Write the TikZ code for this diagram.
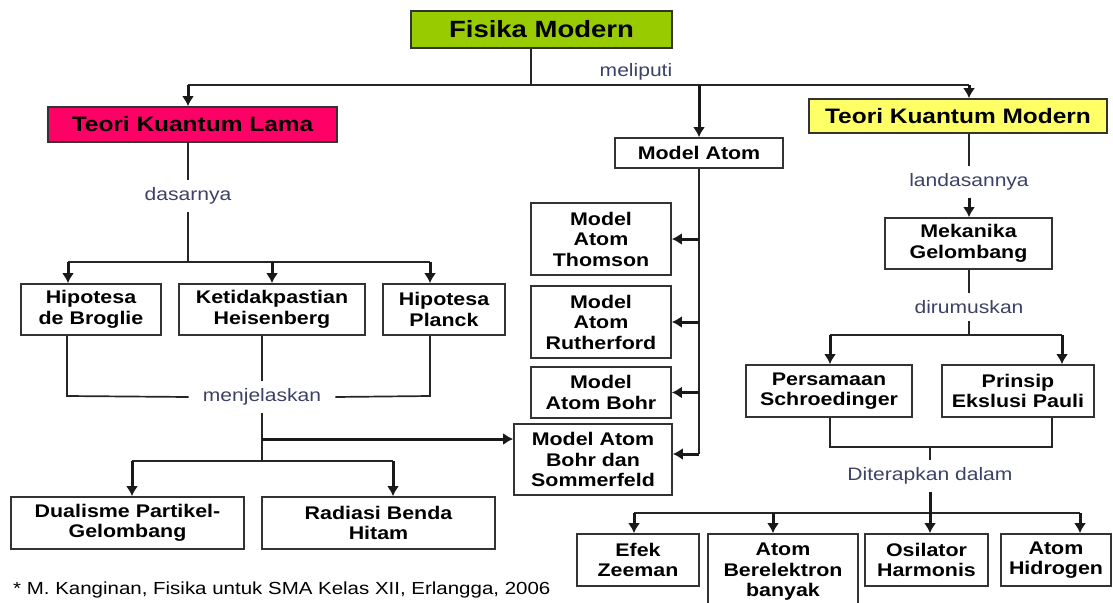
\documentclass[tikz,border=0pt]{standalone}
\usepackage{fontspec}
\setmainfont{Liberation Sans}[FakeStretch=1.17]
\usetikzlibrary{
        arrows.meta,
        positioning
    }
\definecolor{fisgreen}{HTML}{99CC00}
\definecolor{lamapink}{HTML}{FF0066}
\definecolor{modernyellow}{HTML}{FFFF66}
\definecolor{labelblue}{HTML}{3B4266}
\tikzset{>={Latex[length=10pt,width=12pt]}}
\tikzset{
    box/.style={draw=black!80,line width=1.7pt,fill=white,align=center,inner sep=0pt,
        font=\bfseries\fontsize{18.3}{20.5}\selectfont},
    title/.style={box,font=\bfseries\fontsize{20.9}{23}\selectfont},
    lbl/.style={inner xsep=14pt,inner ysep=7pt,text=labelblue,
        font=\fontsize{18}{20}\selectfont},
    conn/.style={draw=black!85,line width=1.7pt},
    arr/.style={->,black!90,line width=3pt}
}

\begin{document}
\begin{tikzpicture}[x=1pt,y=-1pt]
\useasboundingbox (0,0) rectangle (1113,602);
    % kotak utama
    \node[title,fill=fisgreen,minimum width=261pt,minimum height=37pt,
        font=\bfseries\fontsize{23.5}{26}\selectfont] (fisika) at (541.5,29.5) {Fisika Modern};
    \node[title,fill=lamapink,minimum width=289pt,minimum height=35pt] (lama) at (192.5,124.5) {Teori Kuantum Lama};
    \node[box,minimum width=168pt,minimum height=30pt] (atom) at (699,153) {Model Atom};
    \node[title,fill=modernyellow,minimum width=298pt,minimum height=34pt] (modern) at (958,116) {Teori Kuantum Modern};

    % teori kuantum lama
    \node[box,minimum width=140pt,minimum height=51pt] (broglie) at (91,309.5) {Hipotesa\\de Broglie};
    \node[box,minimum width=186pt,minimum height=51pt] (heisenberg) at (272,309.5) {Ketidakpastian\\Heisenberg};
    \node[box,minimum width=122pt,minimum height=51pt] (planck) at (444,309.5) {Hipotesa\\Planck};
    \node[box,minimum width=233pt,minimum height=52pt] (dualisme) at (127.5,523) {Dualisme Partikel-\\Gelombang};
    \node[box,minimum width=233pt,minimum height=52pt] (radiasi) at (378.5,523) {Radiasi Benda\\Hitam};

    % model atom
    \node[box,minimum width=140pt,minimum height=72pt] (thomson) at (601,239) {Model\\Atom\\Thomson};
    \node[box,minimum width=140pt,minimum height=72pt] (rutherford) at (601,322) {Model\\Atom\\Rutherford};
    \node[box,minimum width=140pt,minimum height=51pt] (bohr) at (601,392.5) {Model\\Atom Bohr};
    \node[box,minimum width=158pt,minimum height=71pt] (sommerfeld) at (593,459.5) {Model Atom\\Bohr dan\\Sommerfeld};

    % teori kuantum modern
    \node[box,minimum width=167pt,minimum height=51pt] (mekanika) at (968.5,243.5) {Mekanika\\Gelombang};
    \node[box,minimum width=166pt,minimum height=52pt] (persamaan) at (829,391) {Persamaan\\Schroedinger};
    \node[box,minimum width=152pt,minimum height=52pt] (pauli) at (1018,391) {Prinsip\\Ekslusi Pauli};
    \node[box,minimum width=122pt,minimum height=52pt] (zeeman) at (638,560) {Efek\\Zeeman};
    \node[box,minimum width=150pt,minimum height=76pt] (banyak) at (783,572) {Atom\\Berelektron\\banyak};
    \node[box,minimum width=123pt,minimum height=52pt] (osilator) at (926.5,560) {Osilator\\Harmonis};
    \node[box,minimum width=110pt,minimum height=52pt] (hidrogen) at (1056,560) {Atom\\Hidrogen};

    % label penghubung
    \node[lbl,inner ysep=0pt] (meliputi) at (636,72) {meliputi};
    \node[lbl] (dasarnya) at (188,196) {dasarnya};
    \node[lbl] (menjelaskan) at (262,397) {menjelaskan};
    \node[lbl] (landasan) at (969,182) {landasannya};
    \node[lbl] (dirumuskan) at (969,307) {dirumuskan};
    \node[lbl] (diterapkan) at (930,476) {Diterapkan dalam};

    \node[anchor=west,inner sep=0pt,font=\fontsize{17.5}{20}\selectfont] (sumber) at (13,590)
        {* M. Kanginan, Fisika untuk SMA Kelas XII, Erlangga, 2006};

    % titik cabang
    \coordinate (top) at (531,85);
    \coordinate (topl) at (188,85);
    \coordinate (topm) at (699,85);
    \coordinate (topr) at (969,85);
    \coordinate (dasl) at (68,262);
    \coordinate (dasm) at (272,262);
    \coordinate (dasr) at (430,262);
    \coordinate (jell) at (67,396);
    \coordinate (jelr) at (430,396);
    \coordinate (jels) at (262,439);
    \coordinate (jelb) at (262,461);
    \coordinate (dual) at (132,461);
    \coordinate (radi) at (393,461);
    \coordinate (atomb) at (699,454);
    \coordinate (rumusl) at (830,335);
    \coordinate (rumusr) at (1062,335);
    \coordinate (terapl) at (830,447);
    \coordinate (terapr) at (1052,447);
    \coordinate (contl) at (634,513);
    \coordinate (contm) at (773,513);
    \coordinate (contr) at (1080,513);

    \draw[conn] (fisika.south -| top) -- (top);
    \draw[conn] (topl) -- (topr);
    \path[arr]
        (topl) edge (lama.north -| topl)
        (topm) edge (atom.north)
        (topr) edge (modern.north -| topr);

    \draw[conn] (lama.south -| dasarnya) -- (dasarnya.north);
    \draw[conn] (dasarnya.south) -- (dasarnya.south |- dasl);
    \draw[conn] (dasl) -- (dasr);
    \path[arr]
        (dasl) edge (broglie.north -| dasl)
        (dasm) edge (heisenberg.north -| dasm)
        (dasr) edge (planck.north -| dasr);

    \draw[conn] (broglie.south -| jell) -- (jell) -- (menjelaskan.west);
    \draw[conn] (menjelaskan.east) -- (jelr) -- (planck.south -| jelr);
    \draw[conn] (heisenberg.south -| menjelaskan) -- (menjelaskan.north);
    \draw[conn] (menjelaskan.south) -- (jelb);
    \path[arr] (jels) edge (sommerfeld.west |- jels);
    \draw[conn] (dual) -- (radi);
    \path[arr]
        (dual) edge (dualisme.north -| dual)
        (radi) edge (radiasi.north -| radi);

    \draw[conn] (atom.south) -- (atomb);
    \path[arr]
        (thomson.east -| atomb) edge (thomson.east)
        (rutherford.east -| atomb) edge (rutherford.east)
        (bohr.east -| atomb) edge (bohr.east)
        (atomb) edge (sommerfeld.east |- atomb);

    \draw[conn] (modern.south -| landasan) -- (landasan.north);
    \path[arr] (landasan.south) edge (mekanika.north -| landasan);
    \draw[conn] (mekanika.south -| dirumuskan) -- (dirumuskan.north);
    \draw[conn] (dirumuskan.south) -- (dirumuskan.south |- rumusl);
    \draw[conn] (rumusl) -- (rumusr);
    \path[arr]
        (rumusl) edge (persamaan.north -| rumusl)
        (rumusr) edge (pauli.north -| rumusr);

    \draw[conn] (persamaan.south -| terapl) -- (terapl) -- (terapr) -- (pauli.south -| terapr);
    \draw[conn] (diterapkan.north |- terapl) -- (diterapkan.north);
    \draw[conn] (contl) -- (contr);
    \path[arr]
        (diterapkan.south) edge (osilator.north -| diterapkan)
        (contl) edge (zeeman.north -| contl)
        (contm) edge (banyak.north -| contm)
        (contr) edge (hidrogen.north -| contr);
\end{tikzpicture}
\end{document}
